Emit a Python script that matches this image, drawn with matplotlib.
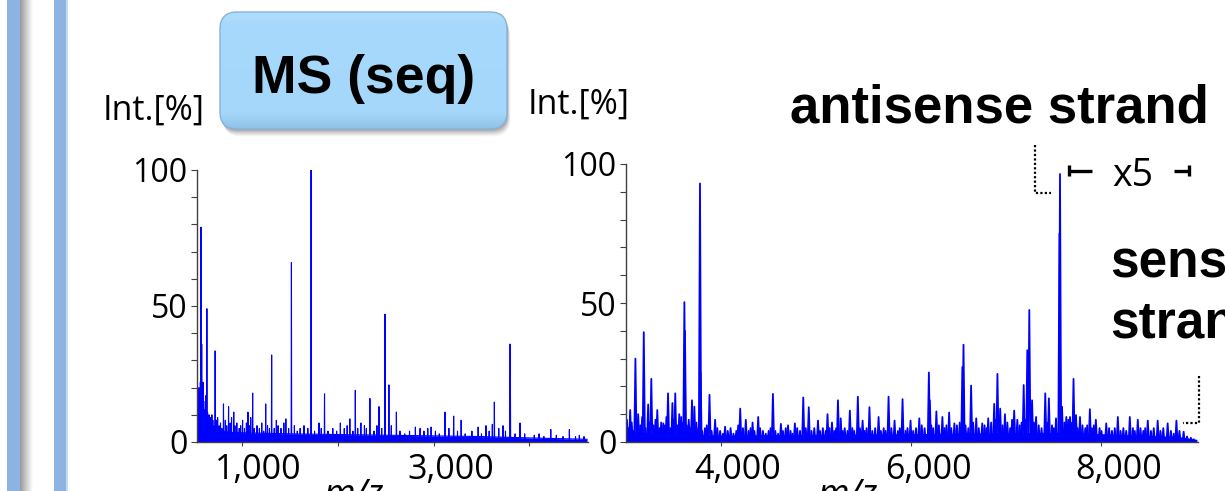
import numpy as np
import matplotlib
matplotlib.use("Agg")
from matplotlib import pyplot as plt
from matplotlib import colors
from matplotlib.patches import FancyBboxPatch, Rectangle
from matplotlib.collections import LineCollection
from matplotlib.transforms import ScaledTranslation

plt.rcParams['font.family'] = ['Open Sans', 'DejaVu Sans']

# ---- low mass range spectrum (m/z, Int.[%]) ----
low_peak_mz = [576, 584, 597, 625, 638, 724, 811, 864, 918, 1066, 1115, 1251,
               1313, 1362, 1461, 1519, 1724, 1807, 1864, 2029, 2128, 2185, 2243,
               2337, 2432, 2494, 2535, 2613, 2811, 2975, 3119, 3210, 3288, 3465,
               3547, 3613, 3634, 3724, 3798, 3801, 3901, 4222, 4416, 4568]
low_peak_int = [79, 36, 22, 17, 49, 33.5, 14, 13, 11, 11, 18, 14,
                32, 8, 8.5, 66, 100, 7, 17.7, 7, 8.5, 19, 7,
                16, 13, 47, 21, 11, 5.5, 5.5, 11, 9.5, 8, 5.5,
                6, 6.5, 14.7, 6, 36, 24, 7, 4.6, 4.6, 2]
low_grass_mz = [550, 556, 562, 570, 590, 605, 612, 618, 645, 652, 660, 672, 680,
                690, 700, 712, 735, 750, 765, 780, 795, 830, 845, 880, 895, 930,
                950, 975, 990, 1010, 1030, 1050, 1080, 1095, 1130, 1160, 1185,
                1210, 1230, 1270, 1290, 1340, 1380, 1410, 1440, 1490, 1550, 1580,
                1610, 1650, 1690, 1760, 1830, 1900, 1950, 1990, 2070, 2100, 2160,
                2210, 2280, 2300, 2380, 2410, 2460, 2560, 2650, 2700, 2750, 2860,
                2900, 2940, 3020, 3060, 3160, 3250, 3330, 3400, 3500, 3580, 3680,
                3750, 3850, 3950, 4050, 4100, 4150, 4280, 4350, 4480, 4520]
low_grass_int = [14, 20, 12, 22, 18, 15, 9, 12, 11, 8, 10, 9, 7,
                 10, 8, 6, 8, 9, 6, 7, 5, 8, 6, 7, 9, 6,
                 7, 5, 6, 8, 5, 7, 6, 9, 5, 6, 5,
                 7, 4, 6, 5, 5, 6, 5, 7, 5, 6, 4,
                 5, 6, 5, 4, 5, 4, 5, 4, 5, 6, 4,
                 5, 6, 5, 4, 6, 5, 6, 4, 3, 4, 5,
                 4, 5, 4, 3, 5, 4, 3, 4, 3, 4, 5,
                 4, 3, 3, 2.5, 3, 2, 2.5, 2, 2, 2.5]
low_floor_mz = [540, 545, 600, 700, 900, 1500, 2500, 3500, 4000, 4600]
low_floor_int = [0, 9, 7, 4.5, 3.5, 3, 2.5, 2, 1.5, 1]

# ---- high mass range spectrum ----
high_peak_mz = [3044, 3099, 3128, 3187, 3233, 3266, 3329, 3392, 3442, 3488, 3518,
                3560, 3614, 3620, 3694, 3719, 3778, 3784, 3878, 3937, 4042, 4201,
                4260, 4331, 4390, 4545, 4629, 4704, 4776, 4864, 4922, 5019, 5119,
                5166, 5229, 5258, 5354, 5438, 5488, 5560, 5656, 5761, 5824, 5908,
                5992, 6084, 6185, 6195, 6264, 6327, 6398, 6453, 6537, 6549, 6629,
                6683, 6746, 6809, 6872, 6906, 6935, 6985, 7082, 7115, 7182, 7220,
                7241, 7270, 7312, 7409, 7447, 7522, 7558, 7564, 7585, 7669, 7706,
                7732, 7774, 7878, 7941, 8050, 8172, 8298, 8382, 8487, 8591, 8696,
                8788, 8864, 8969]
high_peak_int = [11.5, 30, 10, 39.5, 13.5, 22.7, 11.5, 6.7, 17.5, 14, 17.5,
                 10, 50.3, 40, 15, 12.7, 93, 25, 17, 8, 5.5, 12,
                 8, 7, 9, 17.3, 6.5, 6, 6.7, 16, 12.5, 7.7, 10,
                 7, 15, 8.5, 11.3, 16.3, 7.7, 12.5, 9, 16.3, 7.7, 15.4,
                 7.7, 8.5, 25, 15, 11, 9, 10.6, 6.7, 27, 35, 20.3,
                 8.5, 6.7, 8.5, 13.7, 24.5, 12, 10, 11.3, 8, 20.5, 33,
                 47.5, 15, 9, 17.5, 15.7, 8.5, 75, 96.4, 12.7, 9, 22.7,
                 9.7, 9, 11.8, 8, 6.7, 9, 9, 8, 7.7, 7.7, 6.7,
                 7.7, 3.7, 1]
high_grass_mz = [3010, 3025, 3060, 3075, 3115, 3150, 3170, 3205, 3250, 3290, 3310,
                 3350, 3370, 3410, 3425, 3465, 3500, 3540, 3580, 3600, 3640, 3660,
                 3680, 3740, 3760, 3800, 3830, 3850, 3900, 3960, 3990, 4020, 4070,
                 4100, 4130, 4160, 4180, 4230, 4290, 4310, 4350, 4410, 4440, 4470,
                 4500, 4520, 4570, 4600, 4650, 4680, 4730, 4750, 4800, 4830, 4890,
                 4950, 4980, 5040, 5070, 5100, 5140, 5190, 5210, 5280, 5300, 5330,
                 5380, 5400, 5460, 5510, 5530, 5590, 5620, 5680, 5710, 5730, 5790,
                 5860, 5880, 5940, 5960, 6020, 6050, 6110, 6140, 6210, 6230, 6290,
                 6350, 6370, 6420, 6480, 6510, 6570, 6600, 6650, 6710, 6770, 6790,
                 6840, 6890, 6960, 7010, 7040, 7060, 7140, 7160, 7200, 7290, 7340,
                 7370, 7430, 7480, 7500, 7610, 7630, 7650, 7690, 7720, 7750, 7800,
                 7830, 7850, 7900, 7920, 7980, 8000, 8080, 8110, 8140, 8200, 8230,
                 8260, 8330, 8350, 8410, 8440, 8460, 8520, 8550, 8620, 8650, 8730,
                 8760, 8820, 8900, 8940]
high_grass_int = [8, 5, 7, 4, 8, 6, 9, 5, 7, 6, 8,
                  5, 7, 6, 9, 5, 8, 6, 9, 7, 6, 8,
                  5, 7, 5, 4, 5, 6, 4, 5, 4, 3, 4,
                  5, 3, 4, 6, 5, 4, 5, 4, 5, 4, 3,
                  4, 5, 4, 3, 4, 5, 4, 3, 5, 4, 5,
                  4, 5, 4, 5, 4, 5, 4, 5, 4, 5, 4,
                  5, 4, 5, 4, 5, 4, 5, 4, 5, 4, 5,
                  4, 5, 4, 5, 4, 5, 6, 5, 6, 5, 6,
                  5, 6, 5, 6, 7, 6, 5, 7, 5, 6, 5,
                  7, 8, 6, 7, 5, 8, 6, 7, 8, 7, 6,
                  5, 7, 6, 5, 7, 9, 8, 7, 6, 5, 6,
                  5, 6, 5, 6, 5, 4, 5, 4, 5, 4, 5,
                  4, 5, 4, 5, 4, 5, 4, 5, 4, 5, 4,
                  3, 4, 2, 1.5]
high_floor_mz = [3000, 3100, 4000, 6000, 7500, 8000, 8800, 9000]
high_floor_int = [2, 3, 2, 2.5, 3, 2.5, 1.5, 0.5]

BLUE = '#0000ff'
W, H = 1225, 491


def px_rect(x0, x1, ytop, ybot):
    # figure-fraction rect from pixel edges (y measured from top)
    return [x0 / W, (H - ybot) / H, (x1 - x0) / W, (ybot - ytop) / H]


def draw_spectrum(ax, peak_mz, peak_int, grass_mz, grass_int, floor_mz, floor_int,
                  half_width, lw):
    ax.fill_between(floor_mz, 0, floor_int, color=BLUE, lw=0)
    segs = []
    for mz, h in zip(list(grass_mz) + list(peak_mz), list(grass_int) + list(peak_int)):
        segs.append([(mz - half_width, 0), (mz, h), (mz + half_width, 0)])
    ax.add_collection(LineCollection(segs, colors=BLUE, linewidths=lw))
    ax.plot(floor_mz, floor_int, color=BLUE, lw=lw)


def style_axes(ax, xlim, xticks, xlabels, label_shift):
    ax.set_xlim(*xlim)
    ax.set_ylim(0, 100)
    for s in ('top', 'right'):
        ax.spines[s].set_visible(False)
    for s in ('left', 'bottom'):
        ax.spines[s].set_color('#404040')
        ax.spines[s].set_linewidth(1.0)
    ax.set_yticks([0, 50, 100])
    ax.set_yticks(np.arange(0, 101, 10), minor=True)
    ax.set_xticks(xticks)
    ax.set_xticklabels(xlabels)
    ax.tick_params(axis='y', which='both', length=4, width=0.8, color='#404040',
                   labelsize=23, pad=3)
    ax.tick_params(axis='x', length=3, width=0.8, color='#404040', labelsize=24.5, pad=5)
    ax.patch.set_alpha(0)
    fig = ax.figure
    for lbl in ax.get_xticklabels():
        lbl.set_transform(lbl.get_transform() +
                          ScaledTranslation(label_shift / 100, 0, fig.dpi_scale_trans))


fig = plt.figure(figsize=(W / 100, H / 100), dpi=100)

ax1 = fig.add_axes(px_rect(197, 588, 170, 442))
draw_spectrum(ax1, low_peak_mz, low_peak_int, low_grass_mz, low_grass_int,
              low_floor_mz, low_floor_int, 3, 0.8)
style_axes(ax1, (535, 4610), [1000, 2000, 3000, 4000], ['1,000', '', '3,000', ''], 17)

ax2 = fig.add_axes(px_rect(626, 1198, 164, 442))
draw_spectrum(ax2, high_peak_mz, high_peak_int, high_grass_mz, high_grass_int,
              high_floor_mz, high_floor_int, 12, 1.3)
style_axes(ax2, (3000, 9015), [4000, 6000, 8000], ['4,000', '6,000', '8,000'], 17)

# overlay in pixel coordinates for the slide decorations
ov = fig.add_axes([0, 0, 1, 1], zorder=5)
ov.set_xlim(0, W)
ov.set_ylim(H, 0)
ov.axis('off')
ov.patch.set_alpha(0)

# vertical bars at the left edge
ov.add_patch(Rectangle((7, 0), 13, H, color='#8db3e2', lw=0))
shade = np.linspace(0, 1, 64)[None, :]
ov.imshow(shade, extent=[20, 33, H, 0], cmap=colors.LinearSegmentedColormap.from_list(
    'sh', ['#9a9a9a', '#ffffff']), aspect='auto', zorder=1)
ov.add_patch(Rectangle((54, 0), 13, H, color='#8db3e2', lw=0))
ov.add_patch(Rectangle((66, 0), 1.5, H, color='#c5d9f1', lw=0))

# rounded "MS (seq)" button with soft drop shadow
bx, by, bw, bh, pad = 232, 24, 263, 93, 12
for k, a in enumerate([0.06, 0.08, 0.10, 0.12, 0.16]):
    d = 8 - k * 1.5
    ov.add_patch(FancyBboxPatch((bx + d * 0.4, by + d * 0.9), bw, bh,
                                boxstyle='round,pad=12,rounding_size=17',
                                fc='#404040', ec='none', alpha=a, zorder=2))
box = FancyBboxPatch((bx, by), bw, bh,
                     boxstyle='round,pad=12,rounding_size=17',
                     fc='none', ec='#86b3d6', lw=1.0, zorder=4)
ov.add_patch(box)
grad = np.linspace(0, 1, 128)[:, None]
im = ov.imshow(grad, extent=[bx - pad - 2, bx + bw + pad + 2, by + bh + pad + 2, by - pad - 2],
               aspect='auto', zorder=3,
               cmap=colors.LinearSegmentedColormap.from_list(
                   'btn', [(0, '#b2defd'), (0.12, '#a7d9fc'), (0.85, '#a5d7fb'),
                           (1, '#8ebfe4')]))
im.set_clip_path(box)
ov.set_xlim(0, W)
ov.set_ylim(H, 0)
ov.text(364, 93, 'MS (seq)', family='Liberation Sans', weight='bold', fontsize=38.5,
        ha='center', va='baseline', zorder=6)

# axis titles
ov.text(154, 111, 'Int.[%]', fontsize=24.5, ha='center', va='center')
ov.text(579, 105, 'Int.[%]', fontsize=24.5, ha='center', va='center')
ov.text(354, 505, 'm/z', fontsize=26, style='italic', ha='center', va='baseline')
ov.text(848, 505, 'm/z', fontsize=26, style='italic', ha='center', va='baseline')

# strand labels
ov.text(999, 122, 'antisense strand', family='Liberation Sans', weight='bold',
        fontsize=38, ha='center', va='baseline')
ov.text(1110, 277, 'sense', family='Liberation Sans', weight='bold',
        fontsize=37, ha='left', va='baseline')
ov.text(1110, 338, 'strand', family='Liberation Sans', weight='bold',
        fontsize=37, ha='left', va='baseline')

# x5 zoom bracket
ov.text(1133, 176, 'x5', fontsize=27, ha='center', va='center')
ov.plot([1069, 1069], [165, 176], color='black', lw=2.4, solid_capstyle='butt')
ov.plot([1069, 1092], [170.5, 170.5], color='black', lw=2.4, solid_capstyle='butt')
ov.plot([1174, 1189], [170.5, 170.5], color='black', lw=2.4, solid_capstyle='butt')
ov.plot([1189, 1189], [165, 176], color='black', lw=2.4, solid_capstyle='butt')
ov.plot([1035, 1035, 1051], [145, 193, 193], color='black', lw=1.6, ls=(0, (1, 1)))
ov.plot([1199, 1199, 1183], [376, 423, 423], color='black', lw=1.6, ls=(0, (1, 1)))

fig.savefig('out.png', dpi=100)
